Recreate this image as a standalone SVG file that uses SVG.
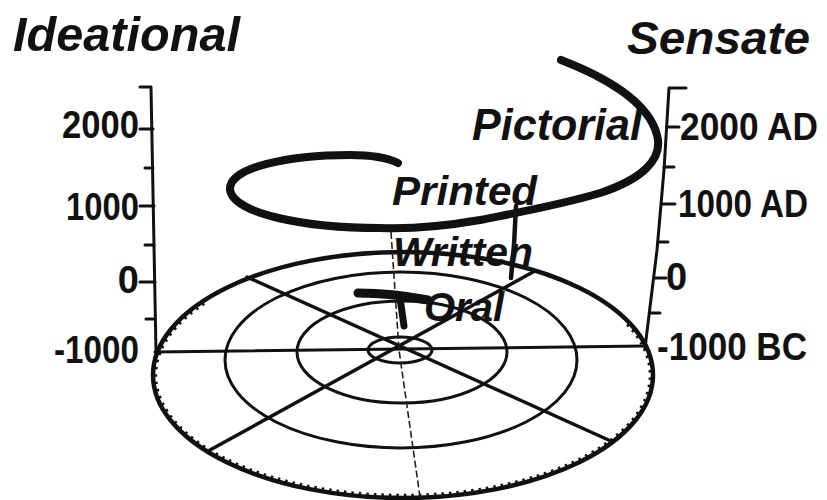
<svg xmlns="http://www.w3.org/2000/svg" width="827" height="500" viewBox="0 0 827 500">
<style>
.ln{fill:none;stroke:#111;stroke-linecap:round;stroke-linejoin:round}
.ring{fill:none;stroke:#111;stroke-width:3}
.num{font-family:"Liberation Sans",Arial,sans-serif;font-weight:bold;font-size:38px;fill:#111}
.lab{font-family:"Liberation Sans",Arial,sans-serif;font-weight:bold;font-style:italic;fill:#111}
</style>
<rect width="827" height="500" fill="#fff"/>
<g id="disc">
  <ellipse cx="403" cy="375" rx="250" ry="123" fill="none" stroke="#111" stroke-width="4.5"/>
  <path d="M627.7,323.9 A248,121 0 1 1 207.6,300.5" fill="none" stroke="#111" stroke-width="4.5" stroke-dasharray="2.5 5"/>
  <ellipse class="ring" cx="401" cy="360" rx="176" ry="88"/>
  <ellipse class="ring" cx="402" cy="352" rx="105" ry="51"/>
  <ellipse class="ring" cx="400" cy="350" rx="32" ry="13"/>
  <line class="ln" x1="155" y1="352" x2="645" y2="346" stroke-width="3"/>
  <line class="ln" x1="247" y1="277" x2="613" y2="442" stroke-width="3.5"/>
  <line class="ln" x1="210" y1="450" x2="533" y2="272" stroke-width="3.5"/>
  <polyline points="391,232 399,350 420,497" fill="none" stroke="#222" stroke-width="1.6" stroke-dasharray="7 3"/>
</g>
<g id="left-axis">
  <polyline class="ln" points="140,87 151,87 156,352" stroke-width="3"/>
  <g class="ln" stroke-width="3">
    <line x1="140" y1="129" x2="153" y2="129"/>
    <line x1="145" y1="168" x2="153" y2="168"/>
    <line x1="140" y1="206" x2="154" y2="206"/>
    <line x1="145" y1="245" x2="154" y2="245"/>
    <line x1="140" y1="282" x2="155" y2="282"/>
    <line x1="146" y1="319" x2="155" y2="319"/>
  </g>
  <text class="num" x="139" y="138" text-anchor="end" textLength="77" lengthAdjust="spacingAndGlyphs">2000</text>
  <text class="num" x="139" y="220" text-anchor="end" textLength="73" lengthAdjust="spacingAndGlyphs">1000</text>
  <text class="num" x="139" y="293" text-anchor="end" font-size="35">0</text>
  <text class="num" x="139" y="363" text-anchor="end" textLength="85" lengthAdjust="spacingAndGlyphs">-1000</text>
</g>
<g id="right-axis">
  <polyline class="ln" points="686,88 669,88 664,170 657,250 645,348" stroke-width="3"/>
  <g class="ln" stroke-width="3">
    <line x1="667" y1="127" x2="679" y2="127"/>
    <line x1="664" y1="167" x2="674" y2="167"/>
    <line x1="662" y1="204" x2="675" y2="204"/>
    <line x1="658" y1="242" x2="668" y2="242"/>
    <line x1="655" y1="278" x2="666" y2="278"/>
    <line x1="650" y1="313" x2="660" y2="313"/>
  </g>
  <text class="num" x="680" y="140" textLength="138" lengthAdjust="spacingAndGlyphs">2000 AD</text>
  <text class="num" x="678" y="217" textLength="130" lengthAdjust="spacingAndGlyphs">1000 AD</text>
  <text class="num" x="666" y="290" font-size="35">0</text>
  <text class="num" x="657" y="360" textLength="150" lengthAdjust="spacingAndGlyphs">-1000 BC</text>
</g>
<g id="spiral">
  <path class="ln" stroke-width="8" d="M561,60 C600,75 648,100 657,135 C664,160 640,180 600,193 C560,205 520,212 480,220 C440,227 410,229 380,228 C305,228 234,214 230,190 C228,167 290,155 350,155 C372,155 388,158 398,163"/>
  <path class="ln" stroke-width="4.5" d="M516,206 L514,245 L511,278"/>
  <path class="ln" stroke-width="9" d="M358,293 Q392,293 428,300"/>
  <path class="ln" stroke-width="7" d="M400,298 L404,326"/>
</g>
<g id="labels">
  <text class="lab" x="13" y="51" font-size="49" textLength="227" lengthAdjust="spacingAndGlyphs">Ideational</text>
  <text class="lab" x="627" y="54" font-size="47" textLength="183" lengthAdjust="spacingAndGlyphs">Sensate</text>
  <text class="lab" x="472" y="140" font-size="44" textLength="170" lengthAdjust="spacingAndGlyphs">Pictorial</text>
  <text class="lab" x="392" y="205" font-size="40" textLength="145" lengthAdjust="spacingAndGlyphs">Printed</text>
  <text class="lab" x="393" y="266" font-size="40" textLength="140" lengthAdjust="spacingAndGlyphs">Written</text>
  <text class="lab" x="424" y="321" font-size="40" textLength="80" lengthAdjust="spacingAndGlyphs">Oral</text>
</g>
</svg>
